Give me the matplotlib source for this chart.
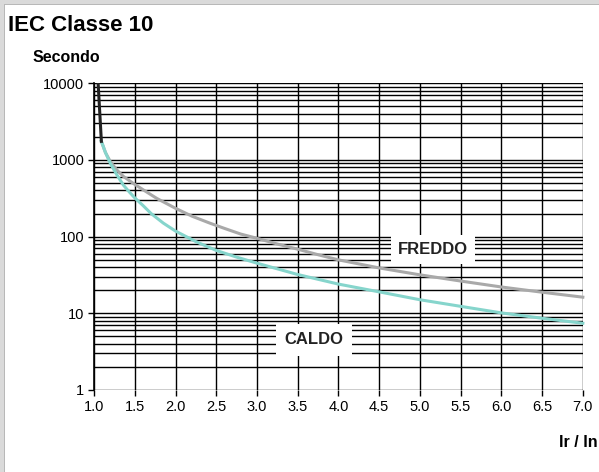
import numpy as np
import matplotlib.pyplot as plt
from matplotlib.patches import Rectangle
from matplotlib.ticker import FixedLocator, LogLocator, NullFormatter

plt.rcParams['font.family'] = ['Liberation Sans', 'DejaVu Sans']

# values (Ir/In, seconds)
start_x = [1.05, 1.09]
start_t = [10000, 1750]

caldo_x = [1.09, 1.14, 1.2, 1.28, 1.36, 1.43, 1.5, 1.6, 1.7, 1.85, 2.0, 2.25, 2.5, 2.75,
           3.0, 3.5, 4.0, 4.5, 5.0, 5.5, 6.0, 6.5, 7.0]
caldo_t = [1750, 1250, 900, 640, 470, 385, 320, 255, 200, 150, 118, 86, 66, 54,
           45, 32, 24, 19, 15, 12.3, 10.1, 8.6, 7.4]

freddo_x = [1.09, 1.14, 1.2, 1.28, 1.36, 1.43, 1.5, 1.6, 1.77, 2.0, 2.2, 2.42, 2.6, 2.8,
            3.0, 3.25, 3.5, 3.75, 4.0, 4.5, 5.0, 5.5, 6.0, 6.5, 7.0]
freddo_t = [1750, 1250, 950, 740, 610, 540, 480, 410, 315, 234, 185, 150, 128, 108,
            95, 80, 68.5, 58, 49.7, 39, 31.7, 26.3, 22, 18.8, 16.2]

xticks = [1.0, 1.5, 2.0, 2.5, 3.0, 3.5, 4.0, 4.5, 5.0, 5.5, 6.0, 6.5, 7.0]
yticks = [1, 10, 100, 1000, 10000]

fig = plt.figure(figsize=(5.99, 4.72), dpi=100)
# grey frame at the top and left edge
fig.patches.append(Rectangle((0, 1 - 5 / 472), 1, 5 / 472, transform=fig.transFigure,
                             facecolor='#dadada', edgecolor='none'))
fig.patches.append(Rectangle((0, 0), 5 / 599, 1, transform=fig.transFigure,
                             facecolor='#dadada', edgecolor='none'))
fig.patches.append(Rectangle((4 / 599, 0), 1.2 / 599, 1 - 4 / 472, transform=fig.transFigure,
                             facecolor='#b8b8b8', edgecolor='none'))
fig.patches.append(Rectangle((4 / 599, 1 - 5.2 / 472), 1, 1.2 / 472, transform=fig.transFigure,
                             facecolor='#b8b8b8', edgecolor='none'))

ax = fig.add_axes([0.157, 0.174, 0.816, 0.6495])
ax.set_yscale('log')
ax.set_xlim(1.0, 7.0)
ax.set_ylim(1, 10000)

ax.yaxis.set_major_locator(FixedLocator(yticks))
ax.yaxis.set_minor_locator(LogLocator(base=10, subs=np.arange(2, 10)))
ax.yaxis.set_minor_formatter(NullFormatter())
ax.set_yticks(yticks)
ax.set_yticklabels([str(v) for v in yticks])
ax.set_xticks(xticks)
ax.set_xticklabels(['%.1f' % v for v in xticks])

ax.grid(True, which='major', color='black', linewidth=1.0)
ax.grid(True, which='minor', axis='y', color='black', linewidth=1.0)
ax.tick_params(which='major', direction='out', length=4, width=1, labelsize=10.5, pad=3)
ax.tick_params(which='minor', length=0)
for s in ['top', 'right', 'bottom']:
    ax.spines[s].set_visible(False)
ax.spines['left'].set_linewidth(1.2)

ax.plot(freddo_x, freddo_t, color='#a9a9a9', linewidth=2.2, zorder=3, clip_on=False)
ax.plot(caldo_x, caldo_t, color='#86d5cc', linewidth=2.2, zorder=4, clip_on=False)
ax.plot(start_x, start_t, color='#222222', linewidth=2.2, zorder=5)

ax.text(5.16, 67, 'FREDDO', ha='center', va='center', fontsize=12, fontweight='bold',
        color='#222222', bbox=dict(facecolor='white', edgecolor='none', pad=5), zorder=6)
ax.text(3.70, 4.5, 'CALDO', ha='center', va='center', fontsize=12, fontweight='bold',
        color='#222222', bbox=dict(facecolor='white', edgecolor='none', pad=6), zorder=6)

fig.text(0.014, 0.947, 'IEC Classe 10', fontsize=16, fontweight='bold', ha='left', va='center')
fig.text(0.055, 0.878, 'Secondo', fontsize=11.5, fontweight='bold', ha='left', va='center')
fig.text(0.998, 0.062, 'Ir / In', fontsize=11.5, fontweight='bold', ha='right', va='center')

fig.savefig('out.png', dpi=100)
